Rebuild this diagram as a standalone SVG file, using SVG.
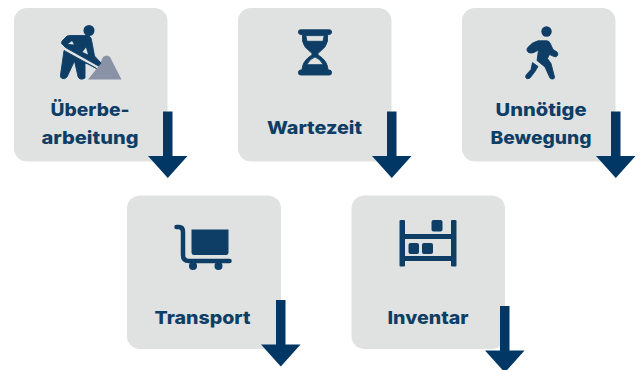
<svg xmlns="http://www.w3.org/2000/svg" width="640" height="370" viewBox="0 0 640 370">
<style>
.box{fill:#e0e2e2}
.t{font-family:Inter,"Liberation Sans",sans-serif;font-weight:800;font-size:18px;fill:#0e3e66;text-anchor:middle}
.i{fill:#0e3e66}
.b{fill:#0e3e66;stroke:#0e3e66;stroke-width:.9;stroke-linejoin:round}
.l{fill:none;stroke:#0e3e66;stroke-linecap:round;stroke-linejoin:round}
.a{fill:#003764}
</style>
<rect width="640" height="370" fill="#fff"/>
<g id="node-ueberarbeitung">
<rect class="box" x="14" y="8" width="153.500" height="153.500" rx="13"/>
<circle class="i" cx="89" cy="30.500" r="5.500"/>
<path fill="#8a92a8" d="M88 79.500L98 67Q101 62 103 57Q107 54 110 57L121.500 79.500Z"/>
<path class="b" d="M61.500 43.500Q61.500 41 63 40L67 36Q68 35.500 71 35.500H86Q91 35.500 91.500 40L94.500 56L101 63L98.500 66L65.500 47.500Z"/>
<path class="b" d="M64 50.500L84 61.500L96.500 68.500L88 64L85 63V78Q83 79.500 80.500 79Q78.500 78.500 78 76.500L74.500 61L67 77Q65 79.500 62 78.500Q60 77.500 60.500 75Z"/>
<path fill="#e0e2e2" d="M72 41L68 44L74 44.500Z"/>
<path fill="#e0e2e2" d="M82.500 52L86 47.500L88 54.500Z"/>
<text class="t" x="90" y="115.500" textLength="79" lengthAdjust="spacingAndGlyphs">Überbe-</text>
<text class="t" x="90" y="143.500" textLength="97" lengthAdjust="spacingAndGlyphs">arbeitung</text>
</g>
<g id="node-wartezeit">
<rect class="box" x="238" y="8" width="153.500" height="153.500" rx="13"/>
<path class="b" fill-rule="evenodd" d="M300.500 29.800H329.500Q331.600 29.800 331.600 32Q331.600 34.300 329.500 34.500L327.500 34.800V41Q326.500 47 320 51.500L318 53.500V55L321 57Q327.500 62 328 69.800L329.500 70Q331.600 70.300 331.600 72.500Q331.600 75 329.500 75H300.500Q298.400 75 298.400 72.500Q298.400 70.300 300.500 70L302 69.800Q302.500 62 309 57L312 55V53.500L310 51.500Q303.500 47 302.500 41V34.800L300.500 34.500Q298.400 34.300 298.400 32Q298.400 29.800 300.500 29.800ZM305.800 35.600L307 41.300H323L324.200 35.600ZM306.800 64.700H323.200Q320 58.500 315 57Q310 58.500 306.800 64.700Z"/>
<text class="t" x="314.500" y="133.500" textLength="95" lengthAdjust="spacingAndGlyphs">Wartezeit</text>
</g>
<g id="node-bewegung">
<rect class="box" x="462" y="8" width="153.500" height="153.500" rx="13"/>
<circle class="i" cx="546.500" cy="31.500" r="5.200"/>
<path class="b" d="M527 48.500Q532 42 538 40.800L547 40.800Q549.500 41 550.500 44L553 49.500L557 52Q558.500 54 557.500 55.500Q556 57.500 554 56.500L549.500 54.500L547.500 58.500L551 63.500L554.500 77Q554.500 79.500 552 79Q550 79 549.500 77L545 67L537 60.500L538.500 50L534 52.500Q531 53.500 528.500 52.500Q526.500 51 527 48.500Z"/>
<path class="b" d="M532.500 62.500L538 66.500L535 71.500L530 78Q527.500 79.500 526 78Q525 76 526.500 74.500L531 69.500Z"/>
<text class="t" x="541" y="115.500" textLength="91" lengthAdjust="spacingAndGlyphs">Unnötige</text>
<text class="t" x="541" y="143.500" textLength="101" lengthAdjust="spacingAndGlyphs">Bewegung</text>
</g>
<g id="node-transport">
<rect class="box" x="127" y="195.500" width="154" height="153.500" rx="13"/>
<path class="l" stroke-width="4.500" d="M176.500 227H179Q183 227 183 232V255Q183 261 189 261H229.500"/>
<path class="i" d="M191.500 229.500H228.500V252Q228.500 255 226 255H194Q191.500 255 191.500 252Z"/>
<circle class="i" cx="193" cy="266" r="4"/>
<circle class="i" cx="218.500" cy="266" r="4"/>
<text class="t" x="202.500" y="323.500" textLength="96" lengthAdjust="spacingAndGlyphs">Transport</text>
</g>
<g id="node-inventar">
<rect class="box" x="351.500" y="195.500" width="153.500" height="153.500" rx="13"/>
<rect class="i" x="399.500" y="220" width="5.500" height="46.500" rx="1"/>
<rect class="i" x="451" y="220" width="5.500" height="46.500" rx="1"/>
<rect class="i" x="404" y="234" width="48" height="5"/>
<rect class="i" x="404" y="256" width="48" height="5"/>
<rect class="i" x="431.500" y="220" width="11" height="11.500" rx="2"/>
<rect class="i" x="408.500" y="243" width="10.500" height="11" rx="2"/>
<rect class="i" x="422" y="243" width="11" height="11" rx="2"/>
<text class="t" x="428" y="323.500" textLength="81" lengthAdjust="spacingAndGlyphs">Inventar</text>
</g>
<g id="connectors">
<path class="a" d="M163 111.500H172.500V156H187.500L167.800 178L148 156H163Z"/>
<path class="a" d="M387 111.500H396.500V156H411.500L391.800 178L372 156H387Z"/>
<path class="a" d="M611 111.500H620.500V156H635.500L615.800 178L596 156H611Z"/>
<path class="a" d="M276 300H285.500V344.500H300.500L280.800 366.500L261 344.500H276Z"/>
<path class="a" d="M500 306H509.500V350.500H524.500L504.800 372.500L485 350.500H500Z"/>
</g>
</svg>
